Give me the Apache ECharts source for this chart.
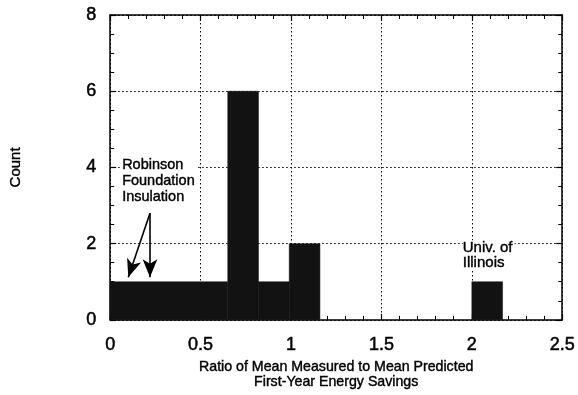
<!DOCTYPE html>
<html>
<head>
<meta charset="utf-8">
<script src="https://cdn.jsdelivr.net/npm/echarts@6/dist/echarts.min.js"></script>
<style>html,body{margin:0;padding:0;background:#fff}#c{width:578px;height:395px}</style>
</head>
<body>
<div id="c"></div>
<script>
// Histogram bins (ratio ranges) and counts
var binStart = [0.00, 0.65, 0.82, 0.99, 2.00];
var binEnd   = [0.65, 0.82, 0.99, 1.16, 2.17];
var counts   = [1, 6, 1, 2, 1];
// Annotations: [x, y, text]
var labelX = [0.066, 1.95];
var labelY = [4.06, 1.87];
var labelText = ['Robinson\nFoundation\nInsulation', 'Univ. of\nIllinois'];
// Arrow from / to (data units)
var arrowFrom = [[0.22, 2.8], [0.22, 2.8]];
var arrowTo = [[0.10, 1.12], [0.22, 1.12]];
var xTicks = ['0', '0.5', '1', '1.5', '2', '2.5'];

var FONT = '"Liberation Sans", Arial, Helvetica, sans-serif';
var chart = echarts.init(document.getElementById('c'), null, {renderer: 'canvas'});

var barData = binStart.map(function (s, i) { return [s, binEnd[i], counts[i]]; });
var lblData = labelX.map(function (x, i) { return [x, labelY[i], labelText[i]]; });

function axisCommon(show) {
  return {
    axisLine: {show: true, onZero: false, lineStyle: {color: '#000', width: 1.5}},
    axisTick: {show: true, inside: true, length: 6, lineStyle: {color: '#000', width: 1.2}},
    minorTick: {show: true, length: 4, lineStyle: {color: '#000', width: 1}},
    axisLabel: {show: show}
  };
}

var xMain = Object.assign(axisCommon(true), {
  type: 'value', min: 0, max: 2.5, interval: 0.5, position: 'bottom',
  name: 'Ratio of Mean Measured to Mean Predicted\nFirst-Year Energy Savings',
  nameLocation: 'middle', nameGap: 33,
  nameTextStyle: {color: '#000', fontFamily: FONT, fontSize: 14.2, lineHeight: 15.5,
    textBorderColor: '#000', textBorderWidth: 0.4},
  splitLine: {show: true, lineStyle: {color: '#000', type: [1.5, 2.5], width: 1}},
  minorSplitLine: {show: false}
});
xMain.minorTick.splitNumber = 5;
xMain.axisLabel = {show: true, color: '#000', fontFamily: FONT, fontSize: 18, margin: 16,
  textBorderColor: '#000', textBorderWidth: 0.5,
  formatter: function (v) { var i = Math.round(v / 0.5); return xTicks[i]; }};
var xTop = Object.assign(axisCommon(false), {type: 'value', min: 0, max: 2.5, interval: 0.5, position: 'top', splitLine: {show: false}});
xTop.minorTick.splitNumber = 5;

var yMain = Object.assign(axisCommon(true), {
  type: 'value', min: 0, max: 8, interval: 2, position: 'left',
  name: 'Count', nameLocation: 'middle', nameGap: 87, nameRotate: 90,
  nameTextStyle: {color: '#000', fontFamily: FONT, fontSize: 15, textBorderColor: '#000', textBorderWidth: 0.4},
  splitLine: {show: true, lineStyle: {color: '#000', type: [1.5, 2.5], width: 1}}
});
yMain.minorTick.splitNumber = 4;
yMain.axisLabel = {show: true, color: '#000', fontFamily: FONT, fontSize: 18, margin: 14,
  textBorderColor: '#000', textBorderWidth: 0.5};
var yRight = Object.assign(axisCommon(false), {type: 'value', min: 0, max: 8, interval: 2, position: 'right', splitLine: {show: false}});
yRight.minorTick.splitNumber = 4;

chart.setOption({
  animation: false,
  backgroundColor: '#fff',
  grid: {left: 110, top: 15, width: 453, height: 311, containLabel: false},
  xAxis: [xMain, xTop],
  yAxis: [yMain, yRight],
  series: [
    {
      type: 'custom', xAxisIndex: 0, yAxisIndex: 0, z: 3,
      data: barData,
      encode: {x: [0, 1], y: 2},
      renderItem: function (params, api) {
        var p0 = api.coord([api.value(0), api.value(2)]);
        var p1 = api.coord([api.value(1), 0]);
        return {type: 'rect', shape: {x: p0[0], y: p0[1], width: p1[0] - p0[0], height: p1[1] - p0[1]},
          style: {fill: '#121212', stroke: '#121212', lineWidth: 0.5}};
      }
    },
    {
      type: 'custom', xAxisIndex: 0, yAxisIndex: 0, z: 4,
      data: lblData,
      encode: {x: 0, y: 1},
      renderItem: function (params, api) {
        var p = api.coord([api.value(0), api.value(1)]);
        var big = params.dataIndex === 0;
        return {type: 'text', x: p[0], y: p[1] - 8,
          style: {text: lblData[params.dataIndex][2], fill: '#000',
            font: (big ? '14.5px ' : '15px ') + FONT,
            stroke: '#000', lineWidth: 0.4,
            lineHeight: big ? 16 : 15, backgroundColor: '#fff', padding: [0, 2, 0, 0], align: 'left', verticalAlign: 'top'}};
      },
      markLine: {
        silent: true, symbol: ['none', 'arrow'], symbolSize: [11, 18],
        label: {show: false},
        lineStyle: {color: '#000', width: 1.6, type: 'solid'},
        data: arrowFrom.map(function (f, i) { return [{coord: f}, {coord: arrowTo[i]}]; })
      }
    }
  ]
});
</script>
</body>
</html>
